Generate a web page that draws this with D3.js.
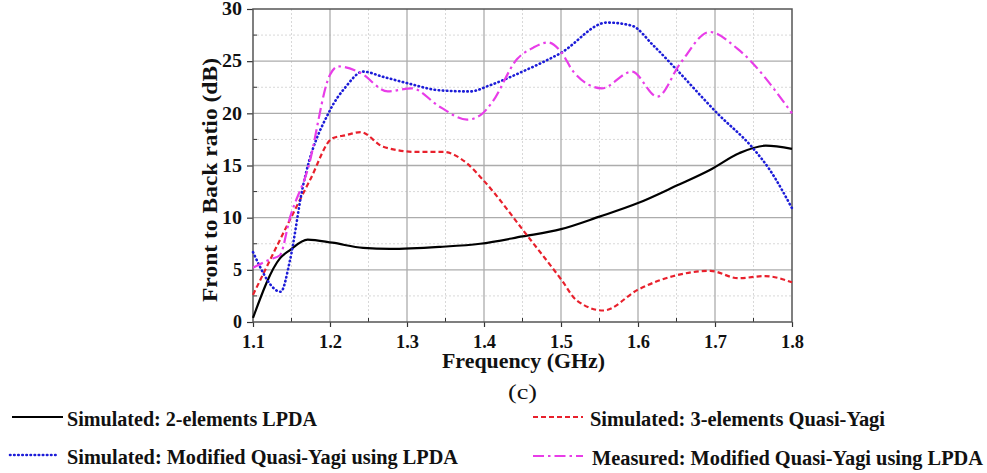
<!DOCTYPE html>
<html>
<head>
<meta charset="utf-8">
<script src="https://cdn.jsdelivr.net/npm/d3@7"></script>
<style>
  body { margin: 0; background: #fff; }
  svg text { font-family: "Liberation Serif", "Times New Roman", Times, serif; }
</style>
</head>
<body>
<div id="chart"></div>
<script>
// Front to back ratio vs frequency

const xTicks = [1.1, 1.2, 1.3, 1.4, 1.5, 1.6, 1.7, 1.8];
const yTicks = [0, 5, 10, 15, 20, 25, 30];

const lpdaFreq = [1.1, 1.135, 1.148, 1.171, 1.203, 1.243, 1.278, 1.343, 1.395, 1.45, 1.5, 1.55, 1.6, 1.651, 1.694, 1.732, 1.766, 1.8];
const lpdaFbr  = [0.4, 6.1, 6.9, 7.9, 7.6, 7.1, 7.0, 7.2, 7.5, 8.2, 8.9, 10.1, 11.4, 13.1, 14.6, 16.2, 16.9, 16.6];

const yagiFreq = [1.1, 1.148, 1.174, 1.203, 1.22, 1.24, 1.269, 1.313, 1.347, 1.378, 1.399, 1.456, 1.501, 1.52, 1.555, 1.6, 1.651, 1.694, 1.73, 1.765, 1.8];
const yagiFbr  = [2.6, 9.8, 13.6, 17.6, 17.9, 18.2, 16.8, 16.3, 16.3, 15.2, 13.6, 8.3, 4.0, 2.1, 1.1, 3.1, 4.5, 4.9, 4.2, 4.4, 3.8];

const simModFreq = [1.1, 1.136, 1.148, 1.164, 1.2, 1.22, 1.243, 1.269, 1.3, 1.343, 1.382, 1.408, 1.45, 1.5, 1.56, 1.592, 1.62, 1.65, 1.703, 1.75, 1.771, 1.8];
const simModFbr  = [6.7, 2.9, 5.9, 12.7, 20.3, 22.5, 24.0, 23.5, 22.9, 22.2, 22.1, 22.7, 24.0, 25.8, 28.7, 28.4, 26.5, 24.2, 20.0, 16.6, 14.6, 10.9];

const measFreq = [1.1, 1.122, 1.135, 1.148, 1.171, 1.2, 1.211, 1.239, 1.275, 1.306, 1.343, 1.378, 1.395, 1.41, 1.443, 1.464, 1.483, 1.501, 1.516, 1.553, 1.592, 1.625, 1.655, 1.693, 1.729, 1.8];
const measFbr  = [5.2, 6.0, 6.4, 10.0, 14.6, 23.7, 24.5, 23.9, 22.1, 22.4, 20.6, 19.4, 19.8, 21.0, 25.2, 26.3, 26.8, 25.8, 24.0, 22.4, 24.0, 21.6, 24.8, 27.8, 26.2, 20.0];

const seriesNames = [
  "Simulated: 2-elements LPDA",
  "Simulated: 3-elements Quasi-Yagi",
  "Simulated: Modified Quasi-Yagi using LPDA",
  "Measured: Modified Quasi-Yagi using LPDA"
];

const W = 987, H = 473;
const plotL = 253, plotR = 792, plotT = 9, plotB = 322;

const svg = d3.select("#chart").append("svg")
  .attr("width", W)
  .attr("height", H);

const x = d3.scaleLinear().domain([1.1, 1.8]).range([plotL, plotR]);
const y = d3.scaleLinear().domain([0, 30]).range([plotB, plotT]);

// minor grid
const minorX = d3.range(1.15, 1.8, 0.1);
const minorY = d3.range(2.5, 30, 5);
svg.append("g").selectAll("line").data(minorX).enter().append("line")
  .attr("x1", d => x(d)).attr("x2", d => x(d))
  .attr("y1", plotT).attr("y2", plotB)
  .attr("stroke", "#d8d8d8").attr("stroke-dasharray", "2 2");
svg.append("g").selectAll("line").data(minorY).enter().append("line")
  .attr("x1", plotL).attr("x2", plotR)
  .attr("y1", d => y(d)).attr("y2", d => y(d))
  .attr("stroke", "#d8d8d8").attr("stroke-dasharray", "2 2");

// major grid
svg.append("g").selectAll("line").data(xTicks.slice(1, -1)).enter().append("line")
  .attr("x1", d => x(d)).attr("x2", d => x(d))
  .attr("y1", plotT).attr("y2", plotB)
  .attr("stroke", "#acacac").attr("stroke-width", 1.3);
svg.append("g").selectAll("line").data(yTicks.slice(1, -1)).enter().append("line")
  .attr("x1", plotL).attr("x2", plotR)
  .attr("y1", d => y(d)).attr("y2", d => y(d))
  .attr("stroke", "#acacac").attr("stroke-width", 1.3);

// axes
const xAxis = svg.append("g")
  .attr("transform", `translate(0,${plotB})`)
  .call(d3.axisBottom(x).tickValues(xTicks).tickFormat(d3.format(".1f")).tickSizeInner(5).tickSizeOuter(0).tickPadding(8));
const yAxis = svg.append("g")
  .attr("transform", `translate(${plotL},0)`)
  .call(d3.axisLeft(y).tickValues(yTicks).tickSizeInner(6).tickSizeOuter(0).tickPadding(5));

[xAxis, yAxis].forEach(a => {
  a.select(".domain").remove();
  a.selectAll("line").attr("stroke", "#333").attr("stroke-width", 1.2);
  a.selectAll("text")
    .attr("font-size", "18px")
    .attr("font-weight", "bold")
    .attr("font-family", "'Liberation Serif', serif")
    .attr("fill", "#111");
});
xAxis.selectAll("text").attr("textLength", 23).attr("lengthAdjust", "spacingAndGlyphs");
yAxis.selectAll("text").filter(d => d >= 10).attr("textLength", 20).attr("lengthAdjust", "spacingAndGlyphs");

// minor ticks
svg.append("g").selectAll("line").data(minorX).enter().append("line")
  .attr("x1", d => x(d)).attr("x2", d => x(d))
  .attr("y1", plotB).attr("y2", plotB - 4)
  .attr("stroke", "#333");
svg.append("g").selectAll("line").data(minorY).enter().append("line")
  .attr("x1", plotL).attr("x2", plotL + 4)
  .attr("y1", d => y(d)).attr("y2", d => y(d))
  .attr("stroke", "#333");

// frame
svg.append("rect")
  .attr("x", plotL).attr("y", plotT)
  .attr("width", plotR - plotL).attr("height", plotB - plotT)
  .attr("fill", "none").attr("stroke", "#555").attr("stroke-width", 1.5);

// series
const styles = [
  { color: "#000000", dash: null, width: 2.2, cap: "butt" },
  { color: "#e8202c", dash: "5 3", width: 2.2, cap: "butt" },
  { color: "#1c1cd8", dash: "0.5 3.6", width: 2.6, cap: "round" },
  { color: "#e83de8", dash: "11 4 2.5 4", width: 2.2, cap: "butt" }
];

const seriesData = [
  lpdaFreq.map((f, i) => [f, lpdaFbr[i]]),
  yagiFreq.map((f, i) => [f, yagiFbr[i]]),
  simModFreq.map((f, i) => [f, simModFbr[i]]),
  measFreq.map((f, i) => [f, measFbr[i]])
];

const line = d3.line()
  .x(d => x(d[0]))
  .y(d => y(d[1]))
  .curve(d3.curveMonotoneX);

seriesData.forEach((data, i) => {
  svg.append("path")
    .datum(data)
    .attr("fill", "none")
    .attr("stroke", styles[i].color)
    .attr("stroke-width", styles[i].width)
    .attr("stroke-linecap", styles[i].cap)
    .attr("stroke-dasharray", styles[i].dash)
    .attr("d", line);
});

// axis titles
svg.append("text")
  .attr("x", 442)
  .attr("y", 368)
  .attr("font-size", "20px")
  .attr("font-weight", "bold")
  .attr("fill", "#111")
  .attr("textLength", 163)
  .attr("lengthAdjust", "spacingAndGlyphs")
  .text("Frequency (GHz)");

svg.append("text")
  .attr("transform", "rotate(-90)")
  .attr("x", -302)
  .attr("y", 217)
  .attr("font-size", "20px")
  .attr("font-weight", "bold")
  .attr("fill", "#111")
  .attr("textLength", 244)
  .attr("lengthAdjust", "spacingAndGlyphs")
  .text("Front to Back ratio (dB)");

svg.append("text")
  .attr("x", 508)
  .attr("y", 399)
  .attr("font-size", "21px")
  .attr("fill", "#111")
  .attr("textLength", 29)
  .attr("lengthAdjust", "spacingAndGlyphs")
  .text("(c)");

// legend
const legendPos = [
  { x: 12, y: 417, len: 51, tx: 67, tl: 250 },
  { x: 533, y: 417, len: 50, tx: 590, tl: 295 },
  { x: 10, y: 455, len: 48, tx: 67, tl: 391 },
  { x: 533, y: 456, len: 50, tx: 592, tl: 391 }
];

seriesNames.forEach((name, i) => {
  const p = legendPos[i];
  svg.append("line")
    .attr("x1", p.x).attr("x2", p.x + p.len)
    .attr("y1", p.y).attr("y2", p.y)
    .attr("stroke", styles[i].color)
    .attr("stroke-width", styles[i].width)
    .attr("stroke-linecap", styles[i].cap)
    .attr("stroke-dasharray", styles[i].dash);
  svg.append("text")
    .attr("x", p.tx)
    .attr("y", p.y + 9)
    .attr("font-size", "20px")
    .attr("font-weight", "bold")
    .attr("fill", "#111")
    .attr("textLength", p.tl)
    .attr("lengthAdjust", "spacingAndGlyphs")
    .text(name);
});
</script>
</body>
</html>
